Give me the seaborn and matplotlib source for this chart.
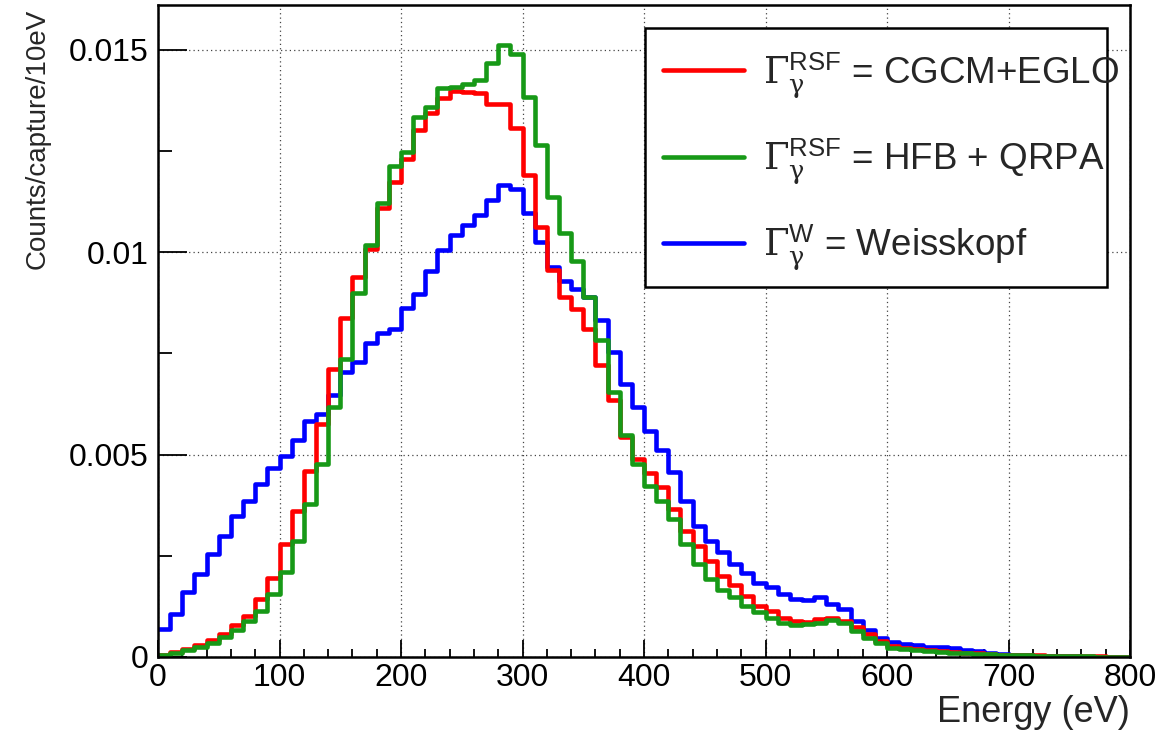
import numpy as np
import pandas as pd
import matplotlib
matplotlib.use("Agg")
import matplotlib.pyplot as plt
import seaborn as sns
from matplotlib.lines import Line2D
from matplotlib.patches import Rectangle
from matplotlib.ticker import MultipleLocator

# ---------------- data (10 eV bins, 0-800 eV) ----------------
bin_edges = list(range(0, 810, 10))

red_cgcm_eglo = [
    0.00005, 0.00013, 0.00020, 0.00030, 0.00042, 0.00057, 0.00078, 0.00102, 0.00143, 0.00195,
    0.00280, 0.00360, 0.00460, 0.00576, 0.00710, 0.00836, 0.00939, 0.01007, 0.01108, 0.01174,
    0.01230, 0.01302, 0.01343, 0.01380, 0.01397, 0.01394, 0.01393, 0.01366, 0.01366, 0.01306,
    0.01190, 0.01062, 0.00955, 0.00890, 0.00860, 0.00811, 0.00720, 0.00634, 0.00543, 0.00489,
    0.00454, 0.00419, 0.00365, 0.00312, 0.00275, 0.00238, 0.00200, 0.00178, 0.00150, 0.00125,
    0.00114, 0.00097, 0.00089, 0.00087, 0.00093, 0.00097, 0.00089, 0.00073, 0.00056, 0.00040,
    0.00027, 0.00022, 0.00020, 0.00017, 0.00015, 0.00013, 0.00011, 0.00010, 0.00008, 0.00006,
    0.00005, 0.00004, 0.00004, 0.00003, 0.00003, 0.00002, 0.00002, 0.00002, 0.00001, 0.00001,
]

green_hfb_qrpa = [
    0.00004, 0.00010, 0.00017, 0.00025, 0.00035, 0.00050, 0.00066, 0.00089, 0.00114, 0.00155,
    0.00209, 0.00287, 0.00378, 0.00477, 0.00617, 0.00737, 0.00899, 0.01017, 0.01120, 0.01213,
    0.01248, 0.01333, 0.01358, 0.01405, 0.01407, 0.01415, 0.01426, 0.01467, 0.01510, 0.01490,
    0.01384, 0.01265, 0.01137, 0.01046, 0.00978, 0.00889, 0.00782, 0.00654, 0.00547, 0.00477,
    0.00423, 0.00386, 0.00341, 0.00279, 0.00229, 0.00192, 0.00165, 0.00147, 0.00126, 0.00110,
    0.00097, 0.00085, 0.00079, 0.00081, 0.00085, 0.00091, 0.00085, 0.00064, 0.00048, 0.00035,
    0.00023, 0.00020, 0.00017, 0.00015, 0.00013, 0.00011, 0.00010, 0.00008, 0.00007, 0.00005,
    0.00004, 0.00004, 0.00003, 0.00003, 0.00002, 0.00002, 0.00002, 0.00001, 0.00001, 0.00001,
]

blue_weisskopf = [
    0.00068, 0.00107, 0.00160, 0.00206, 0.00254, 0.00300, 0.00347, 0.00384, 0.00427, 0.00467,
    0.00497, 0.00537, 0.00582, 0.00601, 0.00646, 0.00704, 0.00728, 0.00775, 0.00799, 0.00811,
    0.00863, 0.00896, 0.00954, 0.01005, 0.01042, 0.01067, 0.01091, 0.01129, 0.01166, 0.01155,
    0.01097, 0.01025, 0.00964, 0.00929, 0.00909, 0.00889, 0.00832, 0.00752, 0.00675, 0.00617,
    0.00559, 0.00512, 0.00458, 0.00386, 0.00324, 0.00287, 0.00260, 0.00229, 0.00207, 0.00182,
    0.00172, 0.00155, 0.00143, 0.00140, 0.00147, 0.00132, 0.00118, 0.00089, 0.00066, 0.00046,
    0.00037, 0.00033, 0.00029, 0.00025, 0.00024, 0.00021, 0.00017, 0.00015, 0.00011, 0.00008,
    0.00006, 0.00004, 0.00003, 0.00003, 0.00002, 0.00002, 0.00001, 0.00001, 0.00001, 0.00001,
]

series_labels = [
    r"$\mathrm{\Gamma}_{\mathrm{\gamma}}^{\mathsf{RSF}}$ = CGCM+EGLO",
    r"$\mathrm{\Gamma}_{\mathrm{\gamma}}^{\mathsf{RSF}}$ = HFB + QRPA",
    r"$\mathrm{\Gamma}_{\mathrm{\gamma}}^{\mathsf{W}}$ = Weisskopf",
]
series_colors = ["#ff0000", "#179917", "#0000ff"]

x_ticks = [0, 100, 200, 300, 400, 500, 600, 700, 800]
y_ticks = [0, 0.005, 0.01, 0.015]
y_tick_labels = ["0", "0.005", "0.01", "0.015"]

# ---------------- style ----------------
sns.set_theme(style="white")
plt.rcParams["font.family"] = ["Liberation Sans", "DejaVu Sans"]
plt.rcParams["mathtext.fontset"] = "custom"
plt.rcParams["mathtext.rm"] = "DejaVu Serif"
plt.rcParams["mathtext.it"] = "DejaVu Serif:italic"
plt.rcParams["mathtext.sf"] = "Liberation Sans"

centers = [(a + b) / 2 for a, b in zip(bin_edges[:-1], bin_edges[1:])]
frames = []
for name, vals in zip(["red", "green", "blue"], [red_cgcm_eglo, green_hfb_qrpa, blue_weisskopf]):
    frames.append(pd.DataFrame({"energy": centers, "w": vals, "model": name}))
df = pd.concat(frames, ignore_index=True)

W, H = 1163, 750
fig = plt.figure(figsize=(W / 100, H / 100), dpi=100)
ax = fig.add_axes([158 / W, 93 / H, 972 / W, 652 / H])

draw_order = [("blue", series_colors[2]), ("red", series_colors[0]), ("green", series_colors[1])]
for name, col in draw_order:
    sub = df[df["model"] == name]
    sns.histplot(data=sub, x="energy", weights="w", bins=bin_edges, element="step",
                 fill=False, color=col, linewidth=3.3, ax=ax)

ax.set_xlim(0, 800)
ax.set_ylim(0, 0.0161)
ax.set_xticks(x_ticks)
ax.set_xticklabels([str(t) for t in x_ticks])
ax.set_yticks(y_ticks)
ax.set_yticklabels(y_tick_labels)
ax.xaxis.set_minor_locator(MultipleLocator(20))
ax.yaxis.set_minor_locator(MultipleLocator(0.0025))
ax.tick_params(axis="both", which="both", direction="in", colors="black",
               labelsize=23, bottom=True, left=True, top=False, right=False)
ax.tick_params(axis="x", which="major", length=12, width=1.3, pad=4)
ax.tick_params(axis="x", which="minor", length=6, width=1.3)
ax.tick_params(axis="y", which="major", length=21, width=1.3, pad=7)
ax.tick_params(axis="y", which="minor", length=10, width=1.3)
ax.grid(True, which="major", color="#444444", linestyle=(0, (1, 2.5)), linewidth=0.9)
for sp in ax.spines.values():
    sp.set_visible(True)
    sp.set_color("black")
    sp.set_linewidth(1.8)

ax.set_xlabel("Energy (eV)", fontsize=26, loc="right")
ax.xaxis.set_label_coords(1.0, -0.058)
ax.set_ylabel("Counts/capture/10eV", fontsize=20, loc="top")
ax.yaxis.set_label_coords(-0.11, 0.995)

# legend box (ROOT TLegend style: fixed box, text may touch the border)
box = Rectangle((645 / W, (H - 287) / H), 462 / W, 259 / H, transform=fig.transFigure,
                facecolor="white", edgecolor="black", linewidth=1.8, zorder=4, clip_on=False)
ax.add_patch(box)

handles = [Line2D([0], [0], color=c, lw=3.3) for c in series_colors]
leg = ax.legend(handles, series_labels, loc="upper left",
                bbox_to_anchor=(645 / W, (H - 32) / H), bbox_transform=fig.transFigure,
                borderaxespad=0.0,
                fontsize=26.5, frameon=False, handlelength=2.2, handletextpad=0.5,
                labelspacing=1.0, borderpad=0.5)
leg.set_zorder(5)

fig.savefig("out.png", dpi=100)
